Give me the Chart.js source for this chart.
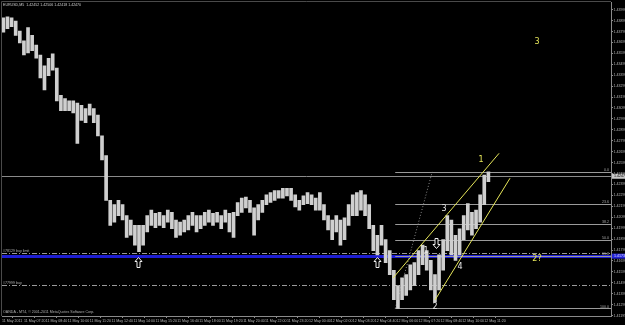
<!DOCTYPE html>
<html><head><meta charset="utf-8">
<script src="https://cdn.jsdelivr.net/npm/chart.js@4.4.1/dist/chart.umd.min.js"></script>
<style>html,body{margin:0;padding:0;background:#000;overflow:hidden}canvas{display:block}</style>
</head><body>
<canvas id="c" width="625" height="325"></canvas>
<script>
// ---------- DATA ----------
const symbolTitle = "EURUSD,M5  1.42452 1.42506 1.42418 1.42470";
const copyright = "OANDA - MT4, \u00a9 2001-2011 MetaQuotes Software Corp.";

// price ranges, one column per 3 bars of M5 (high / low)
const barHigh = [
1.4392,1.4393,1.4392,1.4389,1.4380,1.4371,1.4383,1.4376,1.4367,1.4358,
1.4348,1.4355,1.4359,1.4346,1.4321,1.4318,1.4316,1.4316,1.4314,1.4312,
1.4309,1.4313,1.4309,1.4303,1.4284,1.4266,1.4225,1.4221,1.4225,1.4221,
1.4211,1.4207,1.4202,1.4202,1.4202,1.4211,1.4216,1.4213,1.4214,1.4211,
1.4216,1.4214,1.4207,1.4205,1.4207,1.4211,1.4214,1.4211,1.4211,1.4214,
1.4216,1.4213,1.4214,1.4211,1.4216,1.4213,1.4214,1.4223,1.4227,1.4228,
1.4225,1.4218,1.4221,1.4225,1.4230,1.4232,1.4234,1.4234,1.4236,1.4236,
1.4236,1.4230,1.4225,1.4229,1.4232,1.4230,1.4227,1.4232,1.4221,1.4211,
1.4207,1.4211,1.4207,1.4209,1.4221,1.4230,1.4232,1.4234,1.4230,1.4221,
1.4202,1.4193,1.4202,1.4189,1.4179,1.4161,1.4147,1.4154,1.4157,1.4166,
1.4168,1.4179,1.4184,1.4179,1.4170,1.4157,1.4175,1.4189,1.4211,1.4207,
1.4193,1.4199,1.4211,1.4222,1.4214,1.4216,1.4230,1.4248,1.4251];
const barLow = [
1.4379,1.4382,1.4384,1.4376,1.4369,1.4358,1.4360,1.4362,1.4355,1.4337,
1.4326,1.4339,1.4344,1.4316,1.4307,1.4307,1.4307,1.4305,1.4277,1.4298,
1.4296,1.4303,1.4296,1.4284,1.4262,1.4225,1.4202,1.4205,1.4211,1.4207,
1.4191,1.4193,1.4184,1.4178,1.4184,1.4196,1.4202,1.4200,1.4202,1.4200,
1.4205,1.4199,1.4191,1.4193,1.4196,1.4198,1.4202,1.4196,1.4199,1.4202,
1.4205,1.4202,1.4205,1.4199,1.4205,1.4196,1.4191,1.4211,1.4214,1.4218,
1.4214,1.4193,1.4207,1.4214,1.4221,1.4223,1.4225,1.4227,1.4227,1.4229,
1.4225,1.4219,1.4216,1.4221,1.4222,1.4221,1.4216,1.4216,1.4207,1.4198,
1.4189,1.4196,1.4184,1.4189,1.4202,1.4211,1.4211,1.4216,1.4211,1.4199,
1.4179,1.4175,1.4184,1.4168,1.4157,1.4134,1.4126,1.4134,1.4138,1.4143,
1.4147,1.4157,1.4166,1.4161,1.4143,1.4132,1.4143,1.4161,1.4179,1.4175,
1.4170,1.4175,1.4189,1.4198,1.4193,1.4199,1.4205,1.4221,1.4242];
const barsPerColumn = 3;

const timeTickBars = [0,16,32,48,64,80,96,112,128,144,160,176,192,208,224,240,256,272,288,304,320,336,352];
const timeLabels = ["11 May 2011","11 May 07:20","11 May 08:40","11 May 10:00","11 May 11:20","11 May 12:40",
 "11 May 14:00","11 May 15:20","11 May 16:40","11 May 18:00","11 May 19:20","11 May 20:40","11 May 22:00",
 "11 May 23:20","12 May 00:40","12 May 02:00","12 May 03:20","12 May 04:40","12 May 06:00","12 May 07:20",
 "12 May 08:40","12 May 10:00","12 May 11:20"];
const priceTicks = [1.43995,1.43895,1.43795,1.43695,1.43595,1.43495,1.43395,1.43295,1.43195,1.43095,
 1.42995,1.42895,1.42795,1.42695,1.42595,1.42495,1.42395,1.42295,1.42195,1.42095,1.41995,1.41895,
 1.41795,1.41695,1.41595,1.41495,1.41395,1.41295,1.41195];

const bidPrice = 1.4247;
const bluePrice = 1.41739;
const buyLimitPrice = 1.41767, buyLimitText = "#78129 buy limit";
const buyPrice = 1.41474, buyText = "#77999 buy";

const fibStartBar = 287, fibEndBar = 314;
const fibHigh = 1.4251, fibLow = 1.4126;
const fibRatios = [0, 0.236, 0.382, 0.5, 0.618, 1.0];
const fibNames = ["0.0","23.6","38.2","50.0","61.8","100.0"];

const channelUpper = [{x:285.4,y:1.41539},{x:362.8,y:1.42680}];
const channelLower = [{x:316.1,y:1.41338},{x:370.8,y:1.42452}];

const waveText  = ["1","2","3","4","1","3","2?"];
const waveBar   = [309.5,316.1,322.6,334.3,349.6,390.5,390.5];
const wavePrice = [1.4179,1.4127,1.4217,1.4164,1.4262,1.4370,1.4171];
const waveColor = ["#e8e8e8","#e8e8e8","#e8e8e8","#e8e8e8","#e6e65a","#e6e65a","#e6e65a"];

const upArrowBars = [99, 274], upArrowPrice = [1.4173, 1.4173];
const downArrowBars = [317], downArrowPrice = [1.4181];

// ---------- CHART ----------
const rangeData = barHigh.map((h,k)=>({x: k*barsPerColumn+1, y:[barLow[k], h]}));
const tinyFont = {family:'"Liberation Sans", Arial, sans-serif', size:3.6};

const mt4 = {
  id:'mt4',
  beforeDraw(chart){
    const c=chart.ctx; c.save(); c.fillStyle='#000'; c.fillRect(0,0,chart.width,chart.height); c.restore();
  },
  beforeDatasetsDraw(chart){
    const c=chart.ctx, a=chart.chartArea, xs=chart.scales.x, ys=chart.scales.y;
    c.save();
    c.beginPath(); c.rect(a.left,a.top,a.right-a.left,a.bottom-a.top); c.clip();
    const hline=(p,x0,col,w,dash)=>{ const y=Math.round(ys.getPixelForValue(p))+ (w%2?0.5:0);
      c.strokeStyle=col; c.lineWidth=w; c.setLineDash(dash||[]); c.beginPath(); c.moveTo(x0,y); c.lineTo(a.right,y); c.stroke(); };
    hline(buyLimitPrice,a.left,'#9a9a9a',1,[5,2,1,2]);
    hline(buyPrice,a.left,'#9a9a9a',1,[5,2,1,2]);
    hline(bluePrice,a.left,'#1e1ed2',3);
    hline(bidPrice,a.left,'#8a8a8a',1);
    const fx=xs.getPixelForValue(fibStartBar);
    fibRatios.forEach((r)=>hline(fibHigh-(fibHigh-fibLow)*r,fx,'#9a9a9a',1));
    c.setLineDash([1,2]); c.strokeStyle='#8a8a8a'; c.lineWidth=1; c.beginPath();
    c.moveTo(fx,ys.getPixelForValue(fibLow)); c.lineTo(xs.getPixelForValue(fibEndBar),ys.getPixelForValue(fibHigh)); c.stroke();
    c.setLineDash([]);
    c.restore();
  },
  afterDatasetsDraw(chart){
    const c=chart.ctx, a=chart.chartArea, xs=chart.scales.x, ys=chart.scales.y;
    c.save();
    c.font='3.6px "Liberation Sans"'; c.fillStyle='#a8a8a8'; c.textAlign='right'; c.textBaseline='bottom';
    fibRatios.forEach((r,i)=>{ const y=ys.getPixelForValue(fibHigh-(fibHigh-fibLow)*r); c.fillText(fibNames[i],a.right-2,y); });
    c.textAlign='left'; c.fillStyle='#b0b0b0';
    c.fillText(buyLimitText,a.left+1,ys.getPixelForValue(buyLimitPrice)-0.5);
    c.fillText(buyText,a.left+1,ys.getPixelForValue(buyPrice)-0.5);
    c.textBaseline='top'; c.fillStyle='#d0d0d0';
    c.fillText(symbolTitle,a.left+1,a.top+1);
    c.textBaseline='bottom'; c.fillStyle='#b0b0b0';
    c.fillText(copyright,a.left+1,a.bottom-2);
    c.font='8px "DejaVu Sans"'; c.textAlign='center'; c.textBaseline='middle';
    waveText.forEach((t,i)=>{ c.fillStyle=waveColor[i]; c.fillText(t,xs.getPixelForValue(waveBar[i]),ys.getPixelForValue(wavePrice[i])); });
    c.lineWidth=1; c.strokeStyle='#f0f0f0'; c.fillStyle='#000';
    const arrow=(cx,ty,dir)=>{ cx=Math.round(cx)+0.5; ty=Math.round(ty)+0.5;
      const pts=[[0,0],[3.5,4],[1.5,4],[1.5,10],[-1.5,10],[-1.5,4],[-3.5,4]];
      c.beginPath(); pts.forEach((p,j)=>{ const X=cx+p[0], Y=ty+dir*p[1]; j?c.lineTo(X,Y):c.moveTo(X,Y); }); c.closePath(); c.fill(); c.stroke(); };
    upArrowBars.forEach((b,i)=>arrow(xs.getPixelForValue(b),ys.getPixelForValue(upArrowPrice[i]),1));
    downArrowBars.forEach((b,i)=>arrow(xs.getPixelForValue(b),ys.getPixelForValue(downArrowPrice[i]),-1));
    const box=(p,bg,fg,txt)=>{ const y=ys.getPixelForValue(p); c.fillStyle=bg; c.fillRect(a.right+1,y-2.5,chart.width-a.right-1,5);
      c.fillStyle=fg; c.font='3.6px "Liberation Sans"'; c.textAlign='left'; c.textBaseline='middle'; c.fillText(txt,a.right+3,y); };
    box(bluePrice,'#2424d8','#e0e0ff',bluePrice.toFixed(5));
    box(bidPrice,'#c8c8c8','#000',bidPrice.toFixed(5));
    c.strokeStyle='#4a4a4a'; c.lineWidth=1; c.beginPath(); c.moveTo(1.5,a.bottom); c.lineTo(1.5,1.5); c.lineTo(a.right,1.5); c.stroke();
    c.restore();
  }
};

new Chart(document.getElementById('c'), {
  type:'bar',
  data:{datasets:[
    {type:'line', data:channelUpper, borderColor:'#e6e65a', borderWidth:1, pointRadius:0, order:0},
    {type:'line', data:channelLower, borderColor:'#e6e65a', borderWidth:1, pointRadius:0, order:0},
    {type:'bar', data:rangeData, backgroundColor:'#cfcfcf', barThickness:3, order:1}
  ]},
  options:{
    responsive:false, animation:false, devicePixelRatio:1,
    layout:{padding:{left:2,top:2,right:0,bottom:0}},
    plugins:{legend:{display:false}, tooltip:{enabled:false}},
    scales:{
      x:{type:'linear', min:0, max:444.5, offset:false,
        grid:{display:true, drawOnChartArea:false, tickLength:2, color:'#8a8a8a'},
        border:{color:'#8a8a8a'},
        afterBuildTicks(s){ s.ticks = timeTickBars.map(v=>({value:v})); },
        afterFit(s){ s.height = 9; },
        ticks:{autoSkip:false, maxRotation:0, minRotation:0, align:'start', padding:1, color:'#b8b8b8', font:tinyFont,
          callback:(v)=>timeLabels[timeTickBars.indexOf(v)]}},
      y:{type:'linear', position:'right', min:1.41191, max:1.44059,
        grid:{display:true, drawOnChartArea:false, tickLength:2, color:'#8a8a8a'},
        border:{color:'#8a8a8a'},
        afterBuildTicks(s){ s.ticks = priceTicks.map(v=>({value:v})); },
        afterFit(s){ s.width = 14; },
        ticks:{autoSkip:false, padding:0.5, color:'#b8b8b8', font:tinyFont, callback:(v)=>v.toFixed(5)}}
    }
  },
  plugins:[mt4]
});
</script>
</body></html>
